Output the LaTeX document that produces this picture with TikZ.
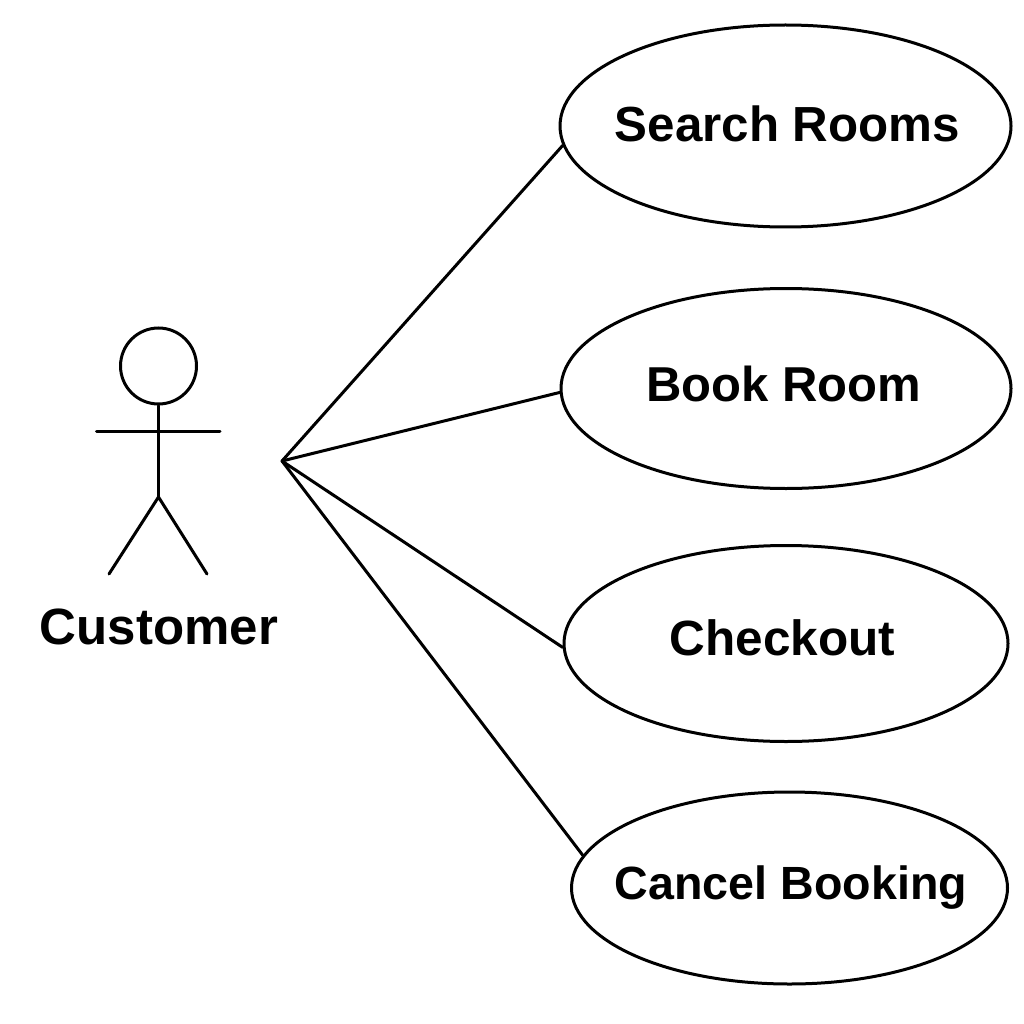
\documentclass[tikz,border=0pt]{standalone}
\usepackage{fontspec}
\setmainfont{Liberation Sans}
\usetikzlibrary{shapes.geometric}
\tikzset{
  usecase/.style={draw=black,line width=3pt,ellipse,inner sep=0pt,fill=white},
  lbl/.style={font=\fontsize{#1}{50}\selectfont\bfseries,text=black,inner sep=0pt},
  ln/.style={draw=black,line width=3pt,line cap=round}
}
\begin{document}
\begin{tikzpicture}[x=1pt,y=-1pt]
\useasboundingbox (0,0) rectangle (1024,1024);
\fill[white] (0,0) rectangle (1024,1024);
\node[usecase,minimum width=451pt,minimum height=202pt] (e1) at (785.5,126) {};
\node[usecase,minimum width=450pt,minimum height=200pt] (e2) at (786,388.5) {};
\node[usecase,minimum width=444pt,minimum height=196pt] (e3) at (786,643.5) {};
\node[usecase,minimum width=436pt,minimum height=192pt] (e4) at (789.5,888) {};
\node[lbl=49.3] (t1) at (787.5,124) {Search Rooms};
\node[lbl=49] (t2) at (784,384) {Book Room};
\node[lbl=49.5] (t3) at (782.5,638) {Checkout};
\node[lbl=46.6] (t4) at (791,888) {Cancel Booking};
\coordinate (hub) at (282,461);
\draw[ln] (hub) -- (e1.185);
\draw[ln] (hub) -- (e2.181);
\draw[ln] (hub) -- (e3.181);
\draw[ln] (hub) -- (e4.171);
\node[draw=black,line width=3pt,circle,minimum size=76pt,inner sep=0pt] (head) at (158.5,366) {};
\coordinate (hip) at (158.5,497);
\coordinate (armL) at (96.5,431);
\coordinate (armR) at (220,431);
\coordinate (legL) at (109,574);
\coordinate (legR) at (207,574);
\draw[ln] (head.south) -- (hip);
\draw[ln] (armL) -- (armR);
\draw[ln] (legL) -- (hip) -- (legR);
\node[lbl=51] (actor) at (159,627) {Customer};
\end{tikzpicture}
\end{document}
